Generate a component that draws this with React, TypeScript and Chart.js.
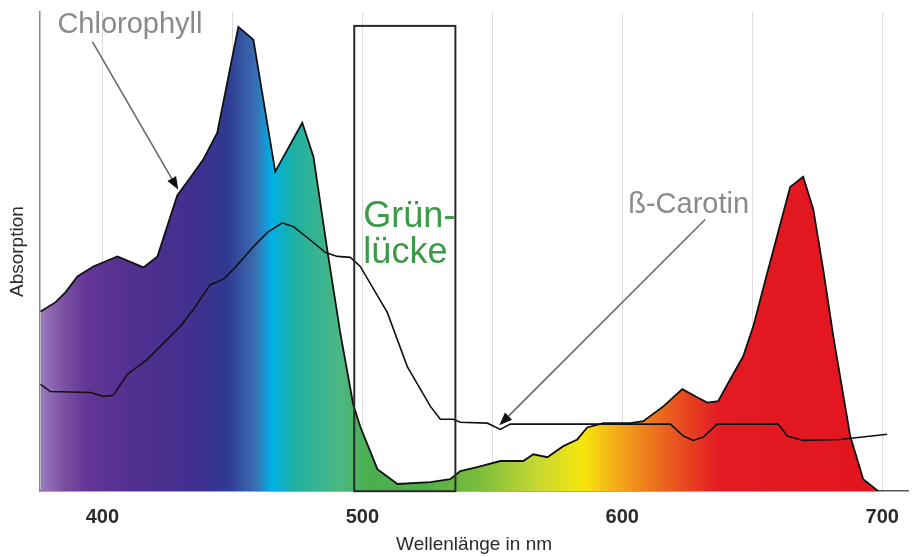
import React, { useEffect, useRef } from "react";
import { Chart, registerables } from "chart.js";

Chart.register(...registerables);

// Wavelength (nm) and absorption (relative units)
const chlorophyllNm = [
  376.2, 381.9, 385.8, 390.4, 396.5, 405.8, 415.8, 421.2, 428.8, 433.8, 438.8, 444.2,
  452.3, 458.1, 466.5, 476.9, 481.2, 486.5, 491.5, 496.5, 499.2, 505.8, 513.5, 526.2,
  533.8, 537.7, 544.2, 553.1, 561.9, 565.8, 571.2, 577.3, 582.7, 586.5, 592.7, 603.1,
  608.1, 615.8, 623.1, 628.8, 632.7, 636.9, 641.5, 646.5, 650.4, 655.8, 664.6, 669.6,
  673.5, 677.3, 681.2, 687.7, 692.7, 698.5,
];
const chlorophyllAbs = [
  37.5, 39.4, 41.5, 44.8, 46.9, 49.0, 46.7, 49.0, 61.7, 65.4, 69.2, 74.8,
  96.9, 94.2, 66.7, 76.9, 69.8, 50.4, 33.1, 18.1, 13.5, 4.6, 1.5, 1.9,
  2.5, 4.2, 5.0, 6.3, 6.3, 7.7, 7.1, 9.4, 10.8, 13.3, 14.2, 14.2,
  14.6, 17.7, 21.3, 19.6, 18.5, 18.8, 23.3, 28.1, 34.4, 45.6, 63.5, 65.6,
  58.8, 46.3, 32.3, 11.5, 2.5, 0,
];

const caroteneNm = [
  376.2, 380.0, 395.4, 400.4, 404.2, 409.6, 417.3, 430.0, 435.0, 441.5, 446.5, 450.4,
  458.1, 463.5, 469.2, 473.5, 481.2, 485.8, 490.4, 495.4, 499.2, 509.6, 517.3, 526.2,
  530.0, 535.0, 537.7, 548.1, 553.1, 556.9, 618.5, 623.5, 627.3, 631.2, 636.5, 660.0,
  663.5, 669.6, 683.8, 701.9,
];
const caroteneAbs = [
  22.3, 20.8, 20.6, 19.8, 20.0, 24.4, 27.5, 34.4, 37.9, 43.1, 44.2, 46.3,
  51.0, 54.0, 56.0, 55.2, 51.9, 49.8, 49.0, 48.8, 46.9, 37.3, 26.0, 17.7,
  15.0, 15.0, 14.4, 14.2, 12.9, 14.0, 14.0, 11.5, 10.6, 11.3, 14.0, 14.0,
  11.5, 10.6, 10.8, 11.9,
];

const xTickLabels = [400, 500, 600, 700];

// Spectrum colour stops (wavelength -> colour)
const spectrumNm = [376, 384, 394, 416, 437, 448, 459, 465, 474, 491.5, 502, 524, 545, 567, 585, 600, 621, 637, 710];
const spectrumColors = [
  "#9d7dbd", "#7e55a5", "#623596", "#4e2f8f", "#40308e", "#2f3a90", "#3b6db2", "#00b0e6",
  "#1fb0a2", "#4db882", "#4caf50", "#4fae48", "#7cbe3c", "#c5d832", "#f6e60c", "#f4a21a",
  "#e8521f", "#e31b23", "#e2141e",
];

// Annotation anchors in data units
const gapBox = { x0: 496.9, x1: 535.8, y0: 0, y1: 97.1 };
const labels = [
  { text: "Chlorophyll", x: 382.7, y: 95.6, color: "#8a8a8a", font: "29px 'Liberation Sans', Arial, sans-serif" },
  { text: "ß-Carotin", x: 602.3, y: 58.1, color: "#8a8a8a", font: "29px 'Liberation Sans', Arial, sans-serif" },
  { text: "Grün-", x: 500.4, y: 55.2, color: "#3a9a46", font: "36px 'Liberation Sans', Arial, sans-serif" },
  { text: "lücke", x: 500.4, y: 47.7, color: "#3a9a46", font: "36px 'Liberation Sans', Arial, sans-serif" },
];
const arrows = [
  { x0: 396.2, y0: 93.75, x1: 429.2, y1: 62.9 },
  { x0: 631.9, y0: 56.7, x1: 552.7, y1: 13.75 },
];

const annotationPlugin = {
  id: "annotations",
  afterDatasetsDraw(chart: any) {
    const { ctx, scales } = chart;
    const xs = scales.x;
    const ys = scales.y;
    ctx.save();
    // Grünlücke box
    const bx0 = xs.getPixelForValue(gapBox.x0);
    const bx1 = xs.getPixelForValue(gapBox.x1);
    const by0 = ys.getPixelForValue(gapBox.y0);
    const by1 = ys.getPixelForValue(gapBox.y1);
    ctx.strokeStyle = "#2a2a2a";
    ctx.lineWidth = 2;
    ctx.strokeRect(bx0, by1, bx1 - bx0, by0 - by1);
    // arrows
    arrows.forEach((a) => {
      const px0 = xs.getPixelForValue(a.x0);
      const py0 = ys.getPixelForValue(a.y0);
      const px1 = xs.getPixelForValue(a.x1);
      const py1 = ys.getPixelForValue(a.y1);
      const ang = Math.atan2(py1 - py0, px1 - px0);
      const headLen = 13;
      const headW = 5;
      const bx = px1 - Math.cos(ang) * headLen;
      const by = py1 - Math.sin(ang) * headLen;
      ctx.strokeStyle = "#6a6a6a";
      ctx.lineWidth = 1.6;
      ctx.beginPath();
      ctx.moveTo(px0, py0);
      ctx.lineTo(bx, by);
      ctx.stroke();
      ctx.fillStyle = "#111";
      ctx.beginPath();
      ctx.moveTo(px1, py1);
      ctx.lineTo(bx + Math.sin(ang) * headW, by - Math.cos(ang) * headW);
      ctx.lineTo(bx - Math.sin(ang) * headW, by + Math.cos(ang) * headW);
      ctx.closePath();
      ctx.fill();
    });
    // labels
    ctx.textAlign = "left";
    ctx.textBaseline = "alphabetic";
    labels.forEach((l) => {
      ctx.font = l.font;
      ctx.fillStyle = l.color;
      ctx.fillText(l.text, xs.getPixelForValue(l.x), ys.getPixelForValue(l.y));
    });
    ctx.restore();
  },
};

let gradCache: any = null;
let gradKey = "";
function spectrumFill(context: any) {
  const chart = context.chart;
  const { ctx, chartArea, scales } = chart;
  if (!chartArea || !scales.x) return "#4b2d8f";
  const key = `${chartArea.left}-${chartArea.right}`;
  if (gradCache && gradKey === key) return gradCache;
  const x0 = chartArea.left;
  const x1 = chartArea.right;
  const g = ctx.createLinearGradient(x0, 0, x1, 0);
  spectrumNm.forEach((nm, i) => {
    const p = (scales.x.getPixelForValue(nm) - x0) / (x1 - x0);
    g.addColorStop(Math.min(1, Math.max(0, p)), spectrumColors[i]);
  });
  gradCache = g;
  gradKey = key;
  return g;
}

export default function App() {
  const ref = useRef<HTMLCanvasElement | null>(null);
  useEffect(() => {
    if (!ref.current) return;
    gradCache = null;
    const chart = new Chart(ref.current, {
      type: "line",
      data: {
        datasets: [
          {
            label: "ß-Carotin",
            data: caroteneNm.map((x, i) => ({ x, y: caroteneAbs[i] })),
            borderColor: "#111",
            borderWidth: 1.6,
            pointRadius: 0,
            fill: false,
            tension: 0,
            order: 0,
          },
          {
            label: "Chlorophyll",
            data: chlorophyllNm.map((x, i) => ({ x, y: chlorophyllAbs[i] })),
            borderColor: "#111",
            borderWidth: 1.8,
            pointRadius: 0,
            fill: "origin",
            backgroundColor: spectrumFill,
            tension: 0,
            order: 1,
          },
        ],
      },
      options: {
        responsive: false,
        animation: false,
        layout: { padding: { top: 12, right: 4, bottom: 1, left: 2 } },
        plugins: { legend: { display: false }, tooltip: { enabled: false } },
        scales: {
          x: {
            type: "linear",
            min: 376,
            max: 710,
            grid: { color: "#dcdcdc", lineWidth: 1, drawTicks: false },
            border: { display: true, color: "#555", width: 1.5 },
            ticks: {
              stepSize: 50,
              includeBounds: false,
              autoSkip: false,
              maxRotation: 0,
              padding: 14,
              color: "#2b2b2b",
              font: { family: "'Liberation Sans', Arial, sans-serif", size: 20, weight: "bold" },
              callback: (v: any) => (xTickLabels.includes(Number(v)) ? String(v) : ""),
            },
            title: {
              display: true,
              text: "Wellenlänge in nm",
              color: "#2b2b2b",
              font: { family: "'Liberation Sans', Arial, sans-serif", size: 19 },
              padding: { top: -10, bottom: 0 },
            },
          },
          y: {
            min: 0,
            max: 100,
            grid: { display: false, drawTicks: false, tickLength: 0 },
            border: { display: true, color: "#8a8a8a", width: 1.5 },
            ticks: { display: false },
            title: {
              display: true,
              text: "Absorption",
              color: "#2b2b2b",
              font: { family: "'Liberation Sans', Arial, sans-serif", size: 19 },
              padding: { top: 4.6, bottom: 10.6 },
            },
          },
        },
      },
      plugins: [annotationPlugin],
    });
    return () => chart.destroy();
  }, []);
  return (
    <canvas
      ref={ref}
      width={913}
      height={557}
      style={{ position: "absolute", left: 0, top: 0, display: "block", background: "#fff" }}
    />
  );
}
